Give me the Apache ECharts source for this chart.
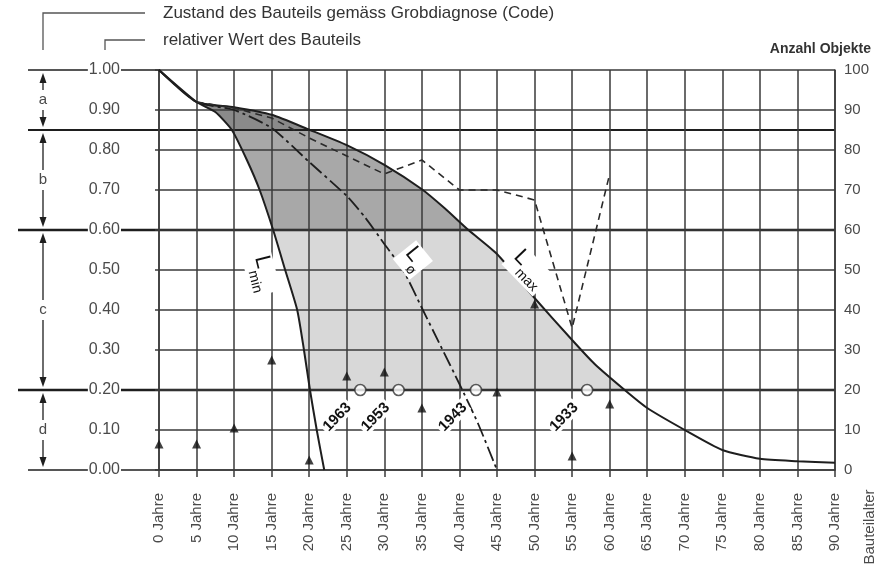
<!DOCTYPE html>
<html>
<head>
<meta charset="utf-8">
<title>Bauteilalter</title>
<script src="https://cdn.jsdelivr.net/npm/echarts@6.0.0/dist/echarts.min.js"></script>
<style>
  html, body { margin: 0; padding: 0; background: #fff; }
  #chart { width: 886px; height: 571px; }
</style>
</head>
<body>
<div id="chart"></div>
<script>
var chart = echarts.init(document.getElementById('chart'));

// ===== data =====
// relative value curves [age in years, relative value]
var lminData = [[0, 1.00], [5, 0.92], [7.5, 0.895], [9.7, 0.85], [11.7, 0.775], [13.4, 0.70],
    [15.2, 0.60], [16.8, 0.50], [18.4, 0.40], [19.3, 0.30], [20.1, 0.20], [21, 0.10], [22, 0.00]];
var loData = [[0, 1.00], [5, 0.92], [10, 0.90], [15, 0.855], [20, 0.77], [25, 0.685], [27.5, 0.63],
    [30, 0.565], [32.5, 0.50], [35, 0.405], [37.5, 0.31], [40, 0.215], [42.5, 0.115], [45, 0.00]];
var lmaxData = [[0, 1.00], [5, 0.92], [10, 0.907], [15, 0.888], [20.1, 0.85], [25, 0.812], [30, 0.763],
    [35, 0.702], [38, 0.655], [41.2, 0.60], [45, 0.54], [50, 0.43], [55, 0.325], [58, 0.265],
    [62, 0.20], [65, 0.155], [70, 0.10], [75, 0.05], [80, 0.028], [85, 0.022], [90, 0.018]];
// dashed line
var dashedData = [[5, 0.92], [10, 0.905], [15, 0.88], [20, 0.83], [25, 0.785], [30, 0.74], [35, 0.775],
    [40, 0.70], [45, 0.70], [50, 0.675], [55, 0.355], [60, 0.74]];

// number of objects per age class (right axis)
var countAges = [0, 5, 10, 15, 20, 25, 30, 35, 45, 50, 55, 60];
var countValues = [6, 6, 10, 27, 2, 23, 24, 15, 19, 41, 3, 16];

// construction year cohorts reaching value 0.20
var cohortYears = ['1963', '1953', '1943', '1933'];
var cohortAges = [26.8, 31.9, 42.2, 57];

// condition codes (Grobdiagnose) and their value bands
var bandEdges = [1.00, 0.85, 0.60, 0.20, 0.00];
var bandCodes = ['a', 'b', 'c', 'd'];

var ageTicks = [0, 90, 5];      // min, max, step
var valueTicks = [0, 1, 0.1];
var countTicks = [0, 100, 10];

var FONT = 'Liberation Sans, Arial, sans-serif';
var INK = '#1e1e1e';
var GRID = '#3a3a3a';

// polygon between Lmin and Lmax inside one value band
function bandPolygon(lo, hi) {
    var upper = lmaxData.filter(function (p) { return p[0] >= 5 && p[1] >= lo && p[1] <= hi; });
    var lower = lminData.filter(function (p) { return p[0] >= 5 && p[1] >= lo && p[1] <= hi; }).reverse();
    return upper.concat(lower);
}

function arrowHead(x, tipY, dir) {
    // dir = -1 points up, 1 points down
    return {
        type: 'polygon',
        shape: { points: [[x, tipY], [x - 3.5, tipY - dir * 10], [x + 3.5, tipY - dir * 10]] },
        style: { fill: INK }
    };
}

var option = {
    backgroundColor: '#fff',
    animation: false,
    textStyle: { fontFamily: FONT },
    grid: { left: 159, right: 51, top: 70, bottom: 101 },
    xAxis: {
        type: 'value',
        min: ageTicks[0], max: ageTicks[1], interval: ageTicks[2],
        z: 3,
        axisLine: { show: true, lineStyle: { color: GRID, width: 1.5 } },
        axisTick: { show: true, length: 7, lineStyle: { color: GRID, width: 1.5 } },
        axisLabel: {
            rotate: 90, margin: 23, fontSize: 15, color: '#4a4a4a', fontFamily: FONT,
            formatter: '{value} Jahre'
        },
        splitLine: { show: true, lineStyle: { color: GRID, width: 1.5 } }
    },
    yAxis: [{
        type: 'value',
        min: valueTicks[0], max: valueTicks[1], interval: valueTicks[2],
        z: 3,
        axisLine: { show: true, lineStyle: { color: GRID, width: 1.5 } },
        axisTick: { show: true, length: 4, lineStyle: { color: GRID, width: 1.5 } },
        axisLabel: {
            margin: 38, fontSize: 16, color: '#4a4a4a', fontFamily: FONT,
            backgroundColor: '#fff', padding: [0, 1],
            formatter: function (v) { return v.toFixed(2); }
        },
        splitLine: { show: true, lineStyle: { color: GRID, width: 1.5 } }
    }, {
        type: 'value',
        min: countTicks[0], max: countTicks[1], interval: countTicks[2],
        position: 'right',
        z: 3,
        axisLine: { show: true, lineStyle: { color: GRID, width: 1.5 } },
        axisTick: { show: false },
        axisLabel: { margin: 9, fontSize: 15, color: '#4a4a4a', fontFamily: FONT },
        splitLine: { show: false }
    }],
    series: [
        // shaded bands between Lmin and Lmax
        {
            type: 'custom',
            silent: true,
            z: 1,
            data: [[0, 0], [1, 0], [2, 0]],
            renderItem: function (params, api) {
                var i = params.dataIndex;
                var colors = ['#8a8a8a', '#a8a8a8', '#d8d8d8'];
                var pts = bandPolygon(bandEdges[i + 1], bandEdges[i]).map(function (p) { return api.coord(p); });
                return { type: 'polygon', shape: { points: pts }, style: { fill: colors[i] } };
            }
        },
        // band boundary lines, left dimension arrows and heading brackets
        {
            type: 'custom',
            silent: true,
            z: 2,
            data: [[0, 0]],
            renderItem: function (params, api) {
                var cs = params.coordSys;
                var right = cs.x + cs.width;
                var kids = [];
                var refLines = [[1.00, 28, cs.x, 1.6], [0.85, 28, right, 2.2], [0.60, 18, right, 2.4],
                    [0.20, 18, right, 2.4], [0.00, 28, cs.x, 1.6]];
                refLines.forEach(function (r) {
                    var y = api.coord([0, r[0]])[1];
                    kids.push({ type: 'line', shape: { x1: r[1], y1: y, x2: r[2], y2: y },
                        style: { stroke: INK, lineWidth: r[3] } });
                });
                var ax = 43;
                for (var i = 0; i < bandCodes.length; i++) {
                    var y1 = api.coord([0, bandEdges[i]])[1] + 3;
                    var y2 = api.coord([0, bandEdges[i + 1]])[1] - 3;
                    var mid = (y1 + y2) / 2;
                    kids.push({ type: 'line', shape: { x1: ax, y1: y1 + 8, x2: ax, y2: mid - 10 },
                        style: { stroke: INK, lineWidth: 1.3 } });
                    kids.push({ type: 'line', shape: { x1: ax, y1: mid + 10, x2: ax, y2: y2 - 8 },
                        style: { stroke: INK, lineWidth: 1.3 } });
                    kids.push(arrowHead(ax, y1, -1));
                    kids.push(arrowHead(ax, y2, 1));
                    kids.push({ type: 'text', x: ax, y: mid,
                        style: { text: bandCodes[i], fill: '#4a4a4a', fontSize: 15, fontFamily: FONT,
                            align: 'center', verticalAlign: 'middle' } });
                }
                // heading brackets
                kids.push({ type: 'polyline', shape: { points: [[43, 50], [43, 13], [145, 13]] },
                    style: { stroke: '#555', lineWidth: 1.3, fill: null } });
                kids.push({ type: 'polyline', shape: { points: [[105, 50], [105, 40], [145, 40]] },
                    style: { stroke: '#555', lineWidth: 1.3, fill: null } });
                return { type: 'group', children: kids };
            }
        },
        {
            name: 'Lmin', type: 'line', data: lminData, symbol: 'none', smooth: 0.2, z: 4,
            lineStyle: { color: INK, width: 2 }
        },
        {
            name: 'Lø', type: 'line', data: loData, symbol: 'none', smooth: 0.2, z: 4,
            lineStyle: { color: INK, width: 1.8, type: [15, 4, 3, 4] }
        },
        {
            name: 'Lmax', type: 'line', data: lmaxData, symbol: 'none', smooth: 0.2, z: 4,
            lineStyle: { color: INK, width: 2 }
        },
        {
            name: 'Verlauf', type: 'line', data: dashedData, symbol: 'none', z: 4,
            lineStyle: { color: '#2a2a2a', width: 1.6, type: [7, 5] }
        },
        {
            name: 'Anzahl Objekte', type: 'scatter', yAxisIndex: 1, z: 5,
            data: countAges.map(function (a, i) { return [a, countValues[i]]; }),
            symbol: 'triangle', symbolSize: [9, 9], symbolOffset: [0, -2],
            itemStyle: { color: '#111' }
        },
        // cohort circles with year labels
        {
            name: 'Jahrgang', type: 'scatter', z: 6,
            data: cohortAges.map(function (a) { return [a, bandEdges[3]]; }),
            symbol: 'circle', symbolSize: 11,
            itemStyle: { color: '#fff', borderColor: '#333', borderWidth: 1.6 }
        },
        {
            type: 'custom', silent: true, z: 10,
            data: cohortAges.map(function (a) { return [a, bandEdges[3]]; }),
            renderItem: function (params, api) {
                var p = api.coord([api.value(0), api.value(1)]);
                return {
                    type: 'text', x: p[0] - 23, y: p[1] + 27, rotation: 46 * Math.PI / 180,
                    style: {
                        text: cohortYears[params.dataIndex], fill: '#111', fontSize: 15, fontWeight: 'bold',
                        fontFamily: FONT, align: 'center', verticalAlign: 'middle',
                        backgroundColor: '#fff', padding: [0, 2]
                    }
                };
            }
        },
        // curve labels
        {
            type: 'custom', silent: true, z: 10,
            data: [[13.6, 0.49], [33.8, 0.525], [49.1, 0.50]],
            renderItem: function (params, api) {
                var subs = ['min', 'ø', 'max'];
                var rots = [-76, -51, -46];
                var p = api.coord([api.value(0), api.value(1)]);
                return {
                    type: 'text', x: p[0], y: p[1], rotation: rots[params.dataIndex] * Math.PI / 180,
                    style: {
                        text: '{L|L}{s|' + subs[params.dataIndex] + '}',
                        align: 'center', verticalAlign: 'middle',
                        backgroundColor: '#fff', padding: [0, 3],
                        rich: {
                            L: { fontSize: 22, fill: '#111', fontFamily: FONT, lineHeight: 22, verticalAlign: 'top' },
                            s: { fontSize: 14, fill: '#111', fontFamily: FONT, lineHeight: 30, verticalAlign: 'bottom' }
                        }
                    }
                };
            }
        }
    ],
    graphic: [
        { type: 'text', left: 163, top: 5,
          style: { text: 'Zustand des Bauteils gemäss Grobdiagnose (Code)', fill: '#333', fontSize: 17, fontFamily: FONT } },
        { type: 'text', left: 163, top: 32,
          style: { text: 'relativer Wert des Bauteils', fill: '#333', fontSize: 17, fontFamily: FONT } },
        { type: 'text', right: 15, top: 42,
          style: { text: 'Anzahl Objekte', fill: '#333', fontSize: 14, fontWeight: 'bold', fontFamily: FONT } },
        { type: 'text', x: 870, y: 527, rotation: Math.PI / 2,
          style: { text: 'Bauteilalter', fill: '#4a4a4a', fontSize: 15, fontFamily: FONT,
                   align: 'center', verticalAlign: 'middle' } }
    ]
};

chart.setOption(option);

window.addEventListener('resize', function () {
    chart.resize();
});
</script>
</body>
</html>
